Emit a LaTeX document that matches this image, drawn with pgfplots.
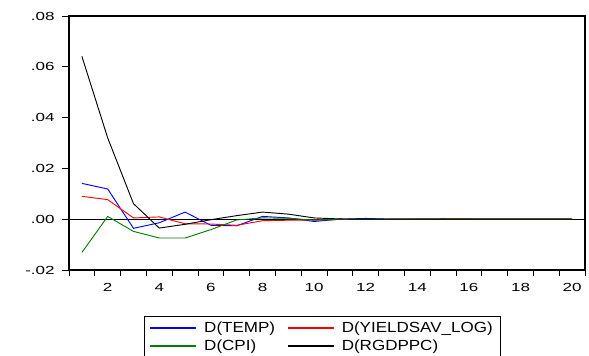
\documentclass[border=0pt]{standalone}
\usepackage{fontspec}
\setmainfont{Liberation Sans}[FakeStretch=1.16]
\newfontfamily\tickfont{Liberation Sans}[FakeStretch=1.45]
\usepackage{pgfplots}
\pgfplotsset{compat=1.18}
\definecolor{cblue}{RGB}{0,0,255}
\definecolor{cred}{RGB}{255,0,0}
\definecolor{cgreen}{RGB}{0,128,0}
\begin{document}
\begin{tikzpicture}
\path[use as bounding box] (-51.75pt,-64.5pt) rectangle (390pt,202.5pt);
\begin{axis}[
  scale only axis,
  width=387pt, height=190.5pt,
  xmin=0.5, xmax=20.5, ymin=-0.02, ymax=0.08,
  axis line style={black, line width=0.8pt},
  xtick={2,4,...,20},
  major x tick style={draw=none},
  minor xtick={0.5,1.5,...,20.5},
  minor tick length=4.5pt,
  ytick={-0.02,0,0.02,0.04,0.06,0.08},
  yticklabels={-.02,.00,.02,.04,.06,.08},
  scaled y ticks=false,
  extra y ticks={0},
  extra y tick labels={},
  extra y tick style={grid=major, major grid style={black, line width=0.6pt}, major tick length=0pt},
  major tick length=5.25pt,
  tick align=outside, tick pos=left,
  tick style={black, line width=0.6pt},
  /pgf/number format/assume math mode=true,
  tick label style={font=\tickfont\fontsize{8.8pt}{10pt}\selectfont},
  yticklabel style={xshift=-2pt},
  xticklabel style={yshift=-1pt},
  legend columns=2,
  legend cell align=left,
  legend style={at={(0.1453,-0.181)}, anchor=north west,
    font=\fontsize{11pt}{13pt}\selectfont,
    /tikz/every odd column/.append style={column sep=3.5pt},
    /tikz/every even column/.append style={column sep=7pt},
    inner xsep=4pt, inner ysep=2pt},
  legend image code/.code={\draw[#1, line width=1pt] (0pt,0pt) -- (34.5pt,0pt);},
]
\addplot[color=cblue, line width=0.7pt] coordinates {
(1,0.0141) (2,0.0119) (3,-0.0036) (4,-0.0014) (5,0.0028) (6,-0.0024) (7,-0.0026) (8,0.0011) (9,0.0005) (10,-0.0009)
(11,0.0000) (12,0.0003) (13,0.0000) (14,0.0000) (15,0.0001) (16,0.0000) (17,0.0000) (18,0.0000) (19,0.0000) (20,0.0000)};
\addlegendentry{D(TEMP)}
\addplot[color=cred, line width=0.7pt] coordinates {
(1,0.0090) (2,0.0077) (3,0.0005) (4,0.0009) (5,-0.0018) (6,-0.0019) (7,-0.0024) (8,-0.0006) (9,-0.0004) (10,-0.0003)
(11,-0.0001) (12,-0.0001) (13,0.0000) (14,0.0000) (15,0.0001) (16,0.0001) (17,0.0000) (18,0.0000) (19,0.0000) (20,0.0000)};
\addlegendentry{D(YIELDSAV\_LOG)}
\addplot[color=cgreen, line width=0.7pt] coordinates {
(1,-0.0131) (2,0.0011) (3,-0.0048) (4,-0.0074) (5,-0.0074) (6,-0.0041) (7,-0.0003) (8,0.0005) (9,0.0004) (10,-0.0004)
(11,0.0000) (12,-0.0001) (13,-0.0001) (14,0.0000) (15,0.0000) (16,0.0000) (17,0.0000) (18,0.0000) (19,0.0000) (20,0.0000)};
\addlegendentry{D(CPI)}
\addplot[color=black, line width=0.7pt] coordinates {
(1,0.0641) (2,0.0320) (3,0.0061) (4,-0.0035) (5,-0.0020) (6,-0.0002) (7,0.0014) (8,0.0028) (9,0.0020) (10,0.0005)
(11,0.0001) (12,0.0000) (13,0.0000) (14,0.0000) (15,0.0000) (16,0.0000) (17,0.0000) (18,0.0000) (19,0.0000) (20,0.0000)};
\addlegendentry{D(RGDPPC)}
\end{axis}
\end{tikzpicture}
\end{document}
